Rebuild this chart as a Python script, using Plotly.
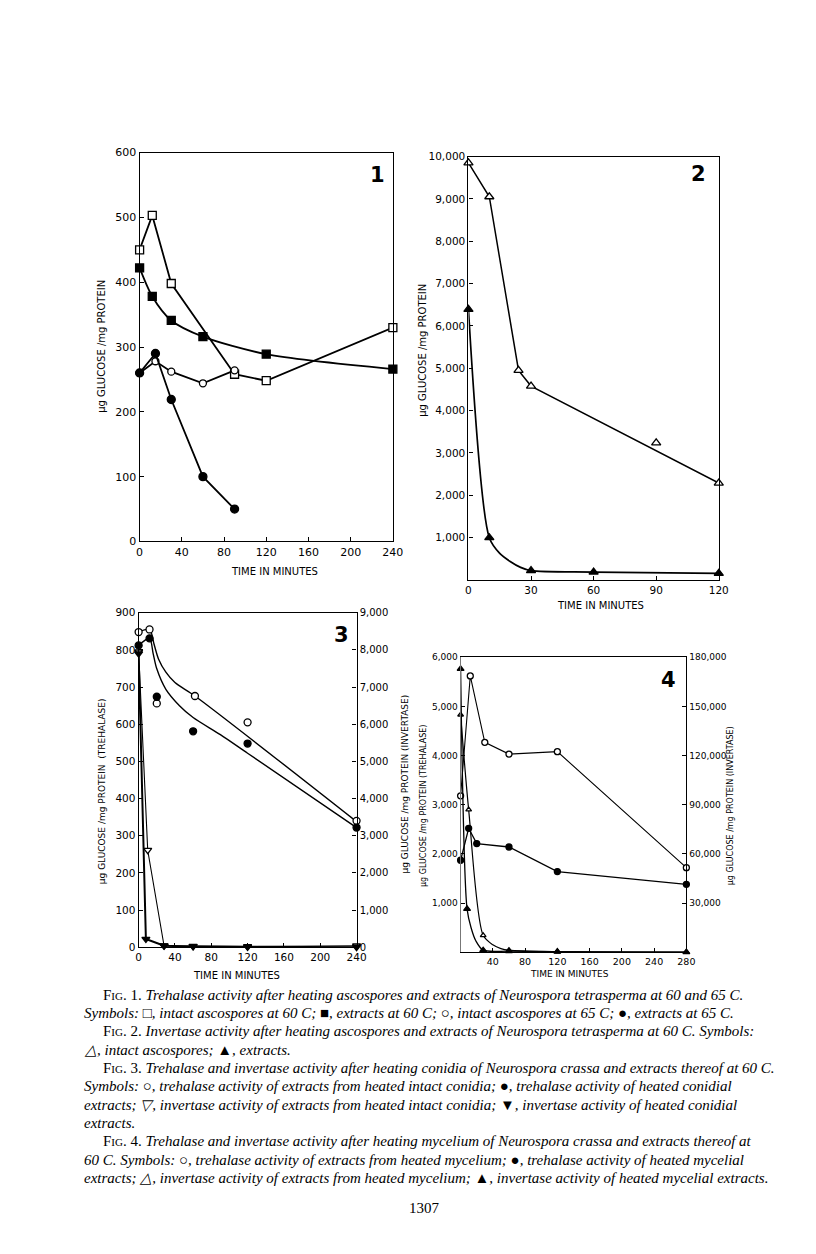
import plotly.graph_objects as go

# ---- Fig. 1: trehalase, ascospores / extracts at 60 and 65 C ----
fig1_t_sq_open = [0, 12, 30, 90, 120, 240]
fig1_v_sq_open = [450, 503, 398, 258, 248, 330]
fig1_t_sq_fill = [0, 12, 30, 60, 120, 240]
fig1_v_sq_fill = [422, 378, 341, 316, 289, 266]
fig1_t_ci_open = [0, 15, 30, 60, 90]
fig1_v_ci_open = [260, 278, 262, 244, 264]
fig1_t_ci_fill = [0, 15, 30, 60, 90]
fig1_v_ci_fill = [260, 290, 219, 100, 50]

# ---- Fig. 2: invertase, ascospores / extracts at 60 C ----
fig2_t_tri_open = [0, 10, 24, 30, 90, 120]
fig2_v_tri_open = [9850, 9050, 4950, 4580, 3240, 2290]
fig2_curve_open_t = [0, 10, 24, 30, 120]
fig2_curve_open_v = [9850, 9050, 4950, 4580, 2290]
fig2_t_tri_fill = [0, 10, 30, 60, 120]
fig2_v_tri_fill = [6390, 1000, 222, 190, 160]
fig2_curve_fill_t = [0, 10, 15, 20, 25, 30, 60, 120]
fig2_curve_fill_v = [6390, 1000, 630, 440, 300, 222, 190, 160]

# ---- Fig. 3: conidia (trehalase left axis, invertase right axis) ----
fig3_t_ci_open = [0, 12, 20, 62, 120, 240]
fig3_v_ci_open = [848, 855, 656, 676, 605, 340]
fig3_t_ci_fill = [0, 12, 20, 60, 120, 240]
fig3_v_ci_fill = [812, 831, 674, 581, 548, 322]
fig3_curve_open_t = [0, 12, 17, 22, 30, 40, 62, 240]
fig3_curve_open_v = [848, 855, 815, 775, 740, 712, 676, 338]
fig3_curve_fill_t = [0, 12, 16, 20, 30, 45, 60, 90, 120, 240]
fig3_curve_fill_v = [812, 831, 790, 749, 694, 650, 618, 572, 522, 322]
fig3_t_tri_open = [0, 10, 28, 60, 120, 240]
fig3_v_tri_open = [7950, 2610, 40, 30, 20, 40]
fig3_t_tri_fill = [0, 8, 28, 60, 120, 240]
fig3_v_tri_fill = [7900, 220, 40, 20, 10, 0]

# ---- Fig. 4: mycelium (trehalase left axis, invertase right axis) ----
fig4_t_ci_open = [0, 12, 30, 60, 120, 280]
fig4_v_ci_open = [3180, 5620, 4270, 4030, 4080, 1720]
fig4_t_ci_fill = [0, 10, 20, 60, 120, 280]
fig4_v_ci_fill = [1870, 2520, 2210, 2140, 1640, 1380]
fig4_t_tri_open = [0, 10, 28, 60, 120, 280]
fig4_v_tri_open = [144900, 87000, 10300, 1200, 300, 0]
fig4_curve_open_t = [0, 10, 28, 40, 50, 60, 120, 280]
fig4_curve_open_v = [144900, 87000, 10300, 4500, 2200, 1200, 300, 0]
fig4_t_tri_fill = [0, 8, 28, 60, 120, 280]
fig4_v_tri_fill = [172900, 26400, 1200, 600, 300, 0]
fig4_curve_fill_t = [0, 8, 13, 19, 28, 60, 120, 280]
fig4_curve_fill_v = [172900, 26400, 14900, 6800, 1200, 600, 300, 0]

# tick labels
fig1_xticks = [0, 40, 80, 120, 160, 200, 240]
fig1_yticks = [0, 100, 200, 300, 400, 500, 600]
fig2_xticks = [0, 30, 60, 90, 120]
fig2_yticks = [1000, 2000, 3000, 4000, 5000, 6000, 7000, 8000, 9000, 10000]
fig3_xticks = [0, 40, 80, 120, 160, 200, 240]
fig3_yticks = [0, 100, 200, 300, 400, 500, 600, 700, 800, 900]
fig3_y2ticks = [0, 1000, 2000, 3000, 4000, 5000, 6000, 7000, 8000, 9000]
fig4_xticks = [40, 80, 120, 160, 200, 240, 280]
fig4_yticks = [1000, 2000, 3000, 4000, 5000, 6000]
fig4_y2ticks = [30000, 60000, 90000, 120000, 150000, 180000]

caption_lines = [
    'F<span style="font-size:11px">IG</span>. 1. <i>Trehalase activity after heating ascospores and extracts of Neurospora tetrasperma at 60 and 65 C.</i>',
    '<i>Symbols: □, intact ascospores at 60 C; ■, extracts at 60 C; ○, intact ascospores at 65 C; ●, extracts at 65 C.</i>',
    'F<span style="font-size:11px">IG</span>. 2. <i>Invertase activity after heating ascospores and extracts of Neurospora tetrasperma at 60 C. Symbols:</i>',
    '<i>△, intact ascospores; ▲, extracts.</i>',
    'F<span style="font-size:11px">IG</span>. 3. <i>Trehalase and invertase activity after heating conidia of Neurospora crassa and extracts thereof at 60 C.</i>',
    '<i>Symbols: ○, trehalase activity of extracts from heated intact conidia; ●, trehalase activity of heated conidial</i>',
    '<i>extracts; ▽, invertase activity of extracts from heated intact conidia; ▼, invertase activity of heated conidial</i>',
    '<i>extracts.</i>',
    'F<span style="font-size:11px">IG</span>. 4. <i>Trehalase and invertase activity after heating mycelium of Neurospora crassa and extracts thereof at</i>',
    '<i>60 C. Symbols: ○, trehalase activity of extracts from heated mycelium; ●, trehalase activity of heated mycelial</i>',
    '<i>extracts; △, invertase activity of extracts from heated mycelium; ▲, invertase activity of heated mycelial extracts.</i>',
]

W, H = 816, 1254
SANS = "DejaVu Sans"
SERIF = "Liberation Serif"


def px(x):
    return x / W


def py(y):
    return 1 - y / H


fig = go.Figure()


def series(t, v, xa, ya, symbol="circle", filled=True, size=7, width=1.6,
           mode="lines+markers", shape="linear"):
    fig.add_trace(go.Scatter(
        x=t, y=v, xaxis=xa, yaxis=ya, mode=mode, cliponaxis=False,
        line=dict(color="black", width=width, shape=shape, smoothing=0.8),
        marker=dict(symbol=symbol, size=size,
                    color="black" if filled else "white",
                    line=dict(color="black", width=1.3)),
        showlegend=False, hoverinfo="skip"))


# Fig 1
series(fig1_t_sq_open, fig1_v_sq_open, "x", "y", "square", False, 8, 1.8)
series(fig1_t_sq_fill, fig1_v_sq_fill, "x", "y", "square", True, 8, 1.8, shape="spline")
series(fig1_t_ci_open, fig1_v_ci_open, "x", "y", "circle", False, 7, 1.8)
series(fig1_t_ci_fill, fig1_v_ci_fill, "x", "y", "circle", True, 8, 1.8)

# Fig 2
series(fig2_curve_open_t, fig2_curve_open_v, "x2", "y2", mode="lines", width=1.5)
series(fig2_t_tri_open, fig2_v_tri_open, "x2", "y2", "triangle-up", False, 8, mode="markers")
series(fig2_curve_fill_t, fig2_curve_fill_v, "x2", "y2", mode="lines", width=1.7, shape="spline")
series(fig2_t_tri_fill, fig2_v_tri_fill, "x2", "y2", "triangle-up", True, 8, mode="markers")

# Fig 3
series(fig3_curve_open_t, fig3_curve_open_v, "x3", "y3", mode="lines", width=1.4, shape="spline")
series(fig3_curve_fill_t, fig3_curve_fill_v, "x3", "y3", mode="lines", width=1.4, shape="spline")
series(fig3_t_tri_open, fig3_v_tri_open, "x3", "y4", "triangle-down", False, 7, 1.1)
series(fig3_t_tri_fill, fig3_v_tri_fill, "x3", "y4", "triangle-down", True, 7, 2.0)
series(fig3_t_ci_open, fig3_v_ci_open, "x3", "y3", "circle", False, 7, mode="markers")
series(fig3_t_ci_fill, fig3_v_ci_fill, "x3", "y3", "circle", True, 7, mode="markers")

# Fig 4
series(fig4_curve_open_t, fig4_curve_open_v, "x4", "y6", mode="lines", width=1.2, shape="spline")
series(fig4_t_tri_open, fig4_v_tri_open, "x4", "y6", "triangle-up", False, 5, mode="markers")
series(fig4_curve_fill_t, fig4_curve_fill_v, "x4", "y6", mode="lines", width=1.3, shape="spline")
series(fig4_t_tri_fill, fig4_v_tri_fill, "x4", "y6", "triangle-up", True, 6, mode="markers")
series(fig4_t_ci_open, fig4_v_ci_open, "x4", "y5", "circle", False, 6, 1.1)
series(fig4_t_ci_fill, fig4_v_ci_fill, "x4", "y5", "circle", True, 6, 1.3)


def tf(size):
    return dict(family=SANS, size=size, color="black")


def xax(dom, rng, ticks, anchor, size, labels=None):
    return dict(domain=dom, range=rng, anchor=anchor, tickvals=ticks,
                ticktext=labels if labels else [str(t) for t in ticks],
                ticks="inside", ticklen=4, tickcolor="black",
                showline=True, linecolor="black", linewidth=1.2, mirror=True,
                showgrid=False, zeroline=False, tickfont=tf(size))


def yax(dom, rng, ticks, anchor, size, labels=None, side="left", mirror=True, overlaying=None):
    d = dict(domain=dom, range=rng, anchor=anchor, tickvals=ticks,
             ticktext=labels if labels else [str(t) for t in ticks],
             ticks="inside", ticklen=4, tickcolor="black", side=side,
             showline=True, linecolor="black", linewidth=1.2, mirror=mirror,
             showgrid=False, zeroline=False, tickfont=tf(size))
    if overlaying:
        d["overlaying"] = overlaying
    return d


def comma(v):
    return [f"{t:,}" for t in v]


fig.update_layout(
    width=W, height=H, margin=dict(l=0, r=0, t=0, b=0),
    paper_bgcolor="white", plot_bgcolor="rgba(0,0,0,0)",
    xaxis=xax([px(130), px(388)], [0, 240], fig1_xticks, "y", 11),
    yaxis=yax([py(533), py(140)], [0, 600], fig1_yticks, "x", 11),
    xaxis2=xax([px(465), px(720)], [0, 120], fig2_xticks, "y2", 10.5),
    yaxis2=yax([py(572), py(144)], [0, 10000], fig2_yticks, "x2", 10.5, comma(fig2_yticks)),
    xaxis3=xax([px(129), px(351)], [0, 240], fig3_xticks, "y3", 10.5),
    yaxis3=yax([py(943), py(605)], [0, 900], fig3_yticks, "x3", 10.5, mirror=False),
    yaxis4=yax([py(943), py(605)], [0, 9000], fig3_y2ticks, "x3", 10, comma(fig3_y2ticks),
               side="right", mirror=False, overlaying="y3"),
    xaxis4=xax([px(457), px(687)], [0, 280], fig4_xticks, "y5", 9.5),
    yaxis5=yax([py(948), py(650)], [0, 6000], fig4_yticks, "x4", 9, comma(fig4_yticks), mirror=False),
    yaxis6=yax([py(948), py(650)], [0, 180000], fig4_y2ticks, "x4", 9, comma(fig4_y2ticks),
               side="right", mirror=False, overlaying="y5"),
)
fig.update_layout(yaxis5=dict(linecolor="#777", linewidth=1))

ann = []


def label(x, y, text, size=10, angle=0, family=SANS, bold=False, xanchor="center"):
    ann.append(dict(x=px(x), y=py(y), xref="paper", yref="paper", text=f"<b>{text}</b>" if bold else text,
                    showarrow=False, textangle=angle, xanchor=xanchor, yanchor="middle",
                    font=dict(family=family, size=size, color="black")))


# panel numbers
label(372, 163, "1", 21, bold=True)
label(699, 162, "2", 21, bold=True)
label(336, 628, "3", 21, bold=True)
label(669, 673, "4", 21, bold=True)

# axis titles
label(267, 563, "TIME IN MINUTES", 10)
label(600, 598, "TIME IN MINUTES", 10)
label(229, 972, "TIME IN MINUTES", 10)
label(568, 970, "TIME IN MINUTES", 9)
label(91, 336, "μg GLUCOSE /mg PROTEIN", 10, -90)
label(418, 340, "μg GLUCOSE /mg PROTEIN", 10, -90)
label(92, 785, "μg GLUCOSE /mg PROTEIN  (TREHALASE)", 9, -90)
label(400, 778, "μg GLUCOSE /mg PROTEIN (INVERTASE)", 9, -90)
label(419, 800, "μg GLUCOSE /mg PROTEIN (TREHALASE)", 8, -90)
label(732, 800, "μg GLUCOSE /mg PROTEIN (INVERTASE)", 8, -90)

# caption
indent = {0, 2, 4, 8}
for i, line in enumerate(caption_lines):
    label(91 if i in indent else 71, 991 + i * 18.5, line, 15, family=SERIF, xanchor="left")
label(420, 1207, "1307", 15, family=SERIF)

fig.update_layout(annotations=ann)

fig.write_html("out.html")
